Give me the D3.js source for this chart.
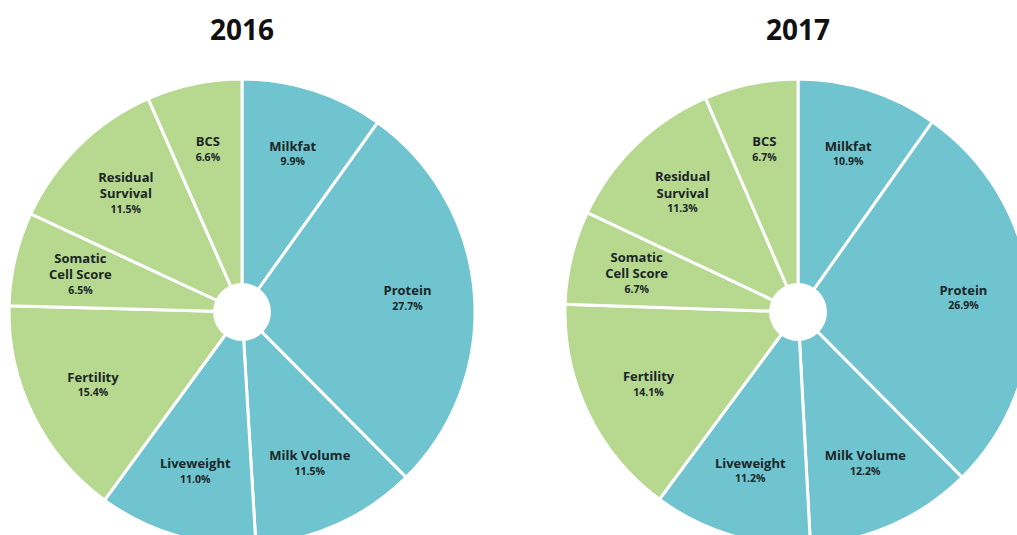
<!DOCTYPE html>
<html>
<head>
<meta charset="utf-8">
<script src="https://cdn.jsdelivr.net/npm/d3@7"></script>
<style>
  body { margin: 0; background: #fff; }
  svg { display: block; font-family: "Open Sans", "Noto Sans", sans-serif; }
  .title { font-size: 28px; font-weight: 700; fill: #111; }
  .lbl { font-size: 13px; font-weight: 700; fill: #1b2626; }
  .pct { font-size: 10.5px; font-weight: 700; fill: #1b2626; }
</style>
</head>
<body>
<div id="chart"></div>
<script>
// categories in clockwise order from 12 o'clock
var categories = ["Milkfat", "Protein", "Milk Volume", "Liveweight", "Fertility", "Somatic Cell Score", "Residual Survival", "BCS"];
var labelLines = [["Milkfat"], ["Protein"], ["Milk Volume"], ["Liveweight"], ["Fertility"], ["Somatic", "Cell Score"], ["Residual", "Survival"], ["BCS"]];
var groups = ["production", "production", "production", "production", "fitness", "fitness", "fitness", "fitness"];
var years = ["2016", "2017"];
// printed percentages
var values2016 = [9.9, 27.7, 11.5, 11.0, 15.4, 6.5, 11.5, 6.6];
var values2017 = [10.9, 26.9, 12.2, 11.2, 14.1, 6.7, 11.3, 6.7];
// slice sizes as drawn in the picture (the 2017 wheel reuses the 2016 shape)
var drawn2016 = [9.9, 27.7, 11.5, 11.0, 15.4, 6.5, 11.5, 6.6];
var drawn2017 = [9.8, 27.8, 11.6, 11.0, 15.4, 6.5, 11.5, 6.5];

var width = 1017, height = 535;
var svg = d3.select("#chart").append("svg")
    .attr("width", width)
    .attr("height", height);

var color = d3.scaleOrdinal()
    .domain(["production", "fitness"])
    .range(["#6fc4cf", "#b6d88f"]);

var outerR = 233, innerR = 29, labelR = 166;
var centers = [242, 798];
var cy = 312;

var pie = d3.pie().sort(null).value(function (d) { return d.size; });
var arc = d3.arc().innerRadius(0).outerRadius(outerR);
var labelArc = d3.arc().innerRadius(labelR).outerRadius(labelR);

[[values2016, drawn2016], [values2017, drawn2017]].forEach(function (pair, k) {
    var vals = pair[0], sizes = pair[1];
    var data = vals.map(function (v, i) {
        return { v: v, size: sizes[i], i: i, name: categories[i] };
    });
    var g = svg.append("g").attr("transform", "translate(" + centers[k] + "," + cy + ")");

    g.selectAll("path.slice")
        .data(pie(data))
        .enter().append("path")
        .attr("class", "slice")
        .attr("d", arc)
        .attr("fill", function (d) { return color(groups[d.data.i]); })
        .attr("stroke", "#fff")
        .attr("stroke-width", 3);

    g.append("circle").attr("r", innerR).attr("fill", "#fff");

    var labels = g.selectAll("g.label")
        .data(pie(data))
        .enter().append("g")
        .attr("class", "label")
        .attr("transform", function (d) {
            var c = labelArc.centroid(d);
            return "translate(" + c[0] + "," + c[1] + ")";
        });

    labels.each(function (d) {
        var lines = labelLines[d.data.i];
        var n = lines.length;
        var top = -((n * 16.5 + 14) / 2);
        var t = d3.select(this);
        lines.forEach(function (s, j) {
            t.append("text").attr("class", "lbl")
                .attr("text-anchor", "middle")
                .attr("y", top + 12 + j * 16.5)
                .text(s);
        });
        t.append("text").attr("class", "pct")
            .attr("text-anchor", "middle")
            .attr("y", top + 12 + n * 16.5 - 2)
            .text(d.data.v.toFixed(1) + "%");
    });

    svg.append("text").attr("class", "title")
        .attr("x", centers[k])
        .attr("y", 40)
        .attr("text-anchor", "middle")
        .text(years[k]);
});
</script>
</body>
</html>
